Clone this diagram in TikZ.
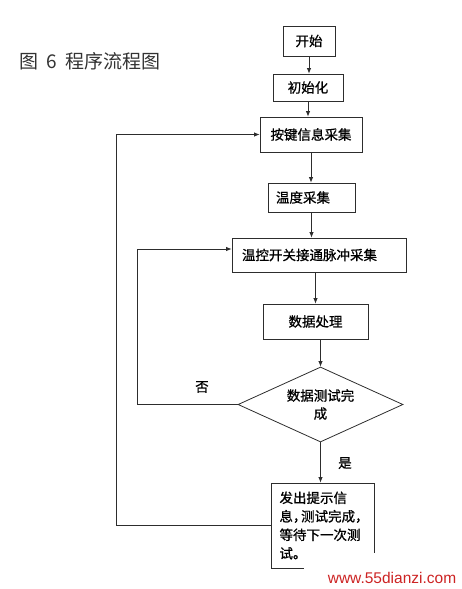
\documentclass[tikz,border=0pt]{standalone}
\usepackage{fontspec}
\newfontfamily\cjk[FakeBold=0.8]{Noto Sans CJK SC}
\newfontfamily\cjktitulo{Noto Sans CJK SC}
\newfontfamily\webfont{Liberation Sans}
\usepackage{tikz}
\usetikzlibrary{arrows.meta,shapes.geometric}
\definecolor{LineaGris}{RGB}{45,45,45}
\definecolor{RojoWeb}{RGB}{205,35,35}
\newcommand\coma{\makebox[0.6em][l]{，}}

\begin{document}
\begin{tikzpicture}[x=1pt,y=-1pt,>={Latex[length=5.5pt,width=4.5pt]},
  paso/.style={draw=LineaGris,line width=0.8pt,rectangle,inner sep=0pt,
    font=\cjk\fontsize{13.5}{18.5}\selectfont},
  decide/.style={draw=LineaGris,line width=0.8pt,diamond,aspect=2.2,inner sep=0pt,
    align=center,font=\cjk\fontsize{13.5}{18}\selectfont},
  flujo/.style={->,draw=LineaGris,line width=0.8pt},
  etiqueta/.style={font=\cjk\fontsize{13.5}{15}\selectfont}]
  \useasboundingbox (0,0) rectangle (462,589);

  \node[font=\cjktitulo\fontsize{19}{21}\selectfont,text=black!80] (titulo) at (90,61)
    {图\hspace{8pt}6\hspace{8pt}程序流程图};

  \node[paso,minimum width=52,minimum height=30] (inicio) at (309,41) {开始};
  \node[paso,minimum width=70,minimum height=27] (init) at (308,87.5) {初始化};
  \node[paso,minimum width=102,minimum height=35] (teclas) at (311,134.5) {按键信息采集};
  \node[paso,minimum width=87,minimum height=29,text width=71,align=left] (temp) at (311.5,197.5) {温度采集};
  \node[paso,minimum width=174,minimum height=34,text width=154,align=left] (pulso) at (319,255) {温控开关接通脉冲采集};
  \node[paso,minimum width=105,minimum height=35] (datos) at (315.5,321.5) {数据处理};
  \node[decide,minimum width=165,minimum height=75] (dec) at (320.5,404.5) {数据测试完\\成};
  \node[paso,minimum width=103,minimum height=85,text width=86,align=left] (fin) at (322.5,525.5)
    {发出提示信\\息\coma 测试完成\coma\\等待下一次测\\试。};

  \coordinate (izqA) at (116,0);
  \coordinate (izqB) at (137,0);

  \draw[flujo] (inicio.south) -- (inicio.south |- init.north);
  \draw[flujo] (init.south) -- (init.south |- teclas.north);
  \draw[flujo] (teclas.south) -- (teclas.south |- temp.north);
  \draw[flujo] (temp.south) -- (temp.south |- pulso.north);
  \draw[flujo] (datos.north |- pulso.south) -- (datos.north);
  \draw[flujo] (dec.north |- datos.south) -- (dec.north);
  \draw[flujo] (dec.south) -- (dec.south |- fin.north);

  \draw[flujo] (dec.west) -- (dec.west -| izqB) |- ([yshift=6pt]pulso.west);
  \draw[flujo] (fin.west) -- (fin.west -| izqA) |- (teclas.west);

  \node[etiqueta] (no) at (202,387) {否};
  \node[etiqueta] (si) at (345,463) {是};

  \fill[white] (304,553) rectangle (462,589);
  \node[font=\webfont\fontsize{15.5}{17}\selectfont,text=RojoWeb] (web) at (392,578) {www.55dianzi.com};
\end{tikzpicture}
\end{document}
